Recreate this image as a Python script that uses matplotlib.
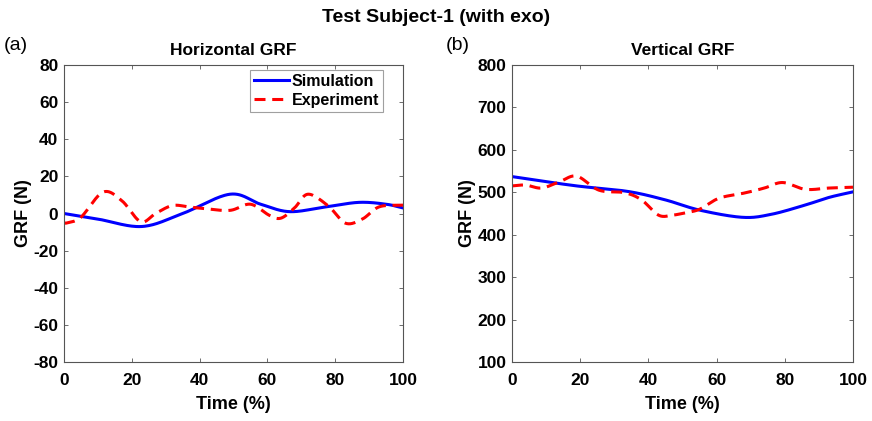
import matplotlib
matplotlib.use("Agg")
import matplotlib.pyplot as plt
import numpy as np

plt.rcParams['font.family'] = ['Liberation Sans', 'DejaVu Sans']
plt.rcParams['axes.unicode_minus'] = False

# Horizontal GRF
h_sim_t = [0, 10, 23, 35, 49, 58, 66.5, 77, 87, 95, 100]
h_sim_v = [0, -3, -7, 0, 10.4, 5, 1, 3.5, 6, 5, 3]
h_exp_t = [0, 1, 5, 11.5, 17, 22.6, 27, 32, 37, 41.7, 49, 55, 60.6, 64, 68, 72, 78, 83, 88, 93, 100]
h_exp_v = [-5, -5, -2, 11.5, 7, -4.4, 0, 4.3, 3.5, 2.6, 1.7, 5, -1, -2.5, 3, 10.4, 4, -5.2, -3, 3.6, 4.5]

# Vertical GRF
v_sim_t = [0, 10, 20, 34, 45, 55, 67.6, 76, 86, 93, 100]
v_sim_v = [537, 525, 514, 502, 482, 458, 441, 448, 470, 488, 501]
v_exp_t = [0, 4, 8.7, 14, 19, 25.5, 33, 38, 43, 47, 51, 55, 60.7, 68, 74, 79.4, 86, 93, 100]
v_exp_v = [515, 517, 510, 525, 538, 505, 499, 482, 446, 446, 452, 460, 486, 498, 510, 523, 507, 510, 512]

x_ticks = [0, 20, 40, 60, 80, 100]
h_ticks = [-80, -60, -40, -20, 0, 20, 40, 60, 80]
v_ticks = [100, 200, 300, 400, 500, 600, 700, 800]


def smooth(t, v):
    t = np.asarray(t, float)
    v = np.asarray(v, float)
    ts, vs = [], []
    P = np.column_stack([t, v])
    P = np.vstack([2 * P[0] - P[1], P, 2 * P[-1] - P[-2]])
    for i in range(1, len(P) - 2):
        p0, p1, p2, p3 = P[i - 1], P[i], P[i + 1], P[i + 2]
        s = np.linspace(0, 1, 30, endpoint=False)[:, None]
        c = 0.5 * ((2 * p1) + (-p0 + p2) * s + (2 * p0 - 5 * p1 + 4 * p2 - p3) * s ** 2
                   + (-p0 + 3 * p1 - 3 * p2 + p3) * s ** 3)
        ts.append(c[:, 0]); vs.append(c[:, 1])
    ts.append([t[-1]]); vs.append([v[-1]])
    return np.concatenate(ts), np.concatenate(vs)


fig = plt.figure(figsize=(8.72, 4.21), dpi=100)
ax1 = fig.add_axes([64 / 872, 1 - 362 / 421, 339 / 872, 297 / 421])
ax2 = fig.add_axes([512 / 872, 1 - 362 / 421, 341 / 872, 297 / 421])

spine_col = '#555555'
TICK_FS = 12.5
LAB_FS = 13


def style(ax):
    ax.set_xlim(0, 100)
    ax.set_xticks(x_ticks)
    for s in ax.spines.values():
        s.set_color(spine_col)
        s.set_linewidth(0.8)
    ax.tick_params(direction='in', top=True, right=True, length=3, width=0.6,
                   color=spine_col, labelsize=TICK_FS, pad=4)
    ax.tick_params(axis='x', pad=8)
    for lbl in ax.get_xticklabels() + ax.get_yticklabels():
        lbl.set_fontweight('bold')
    ax.set_xlabel('Time (%)', fontsize=LAB_FS, fontweight='bold', labelpad=6)
    ax.set_ylabel('GRF (N)', fontsize=LAB_FS, fontweight='bold', labelpad=1)


st, sv = smooth(h_sim_t, h_sim_v)
et, ev = smooth(h_exp_t, h_exp_v)
ax1.plot(st, sv, color='#0000FF', lw=2.2, label='Simulation')
ax1.plot(et, ev, color='#FF0000', lw=2.2, ls=(0, (3.6, 2.2)), label='Experiment')
ax1.set_ylim(-80, 80)
ax1.set_yticks(h_ticks)
style(ax1)
ax1.set_title('Horizontal GRF', fontsize=12.5, fontweight='bold', pad=7)
leg = ax1.legend(loc='upper right', bbox_to_anchor=(0.95, 0.995),
                 prop={'weight': 'bold', 'size': 11.5}, frameon=True, fancybox=False,
                 edgecolor='#888888', handlelength=2.2, handletextpad=0.15,
                 borderpad=0.25, labelspacing=0.25, borderaxespad=0.2)
leg.get_frame().set_linewidth(0.8)

st, sv = smooth(v_sim_t, v_sim_v)
et, ev = smooth(v_exp_t, v_exp_v)
ax2.plot(st, sv, color='#0000FF', lw=2.2)
ax2.plot(et, ev, color='#FF0000', lw=2.2, ls=(0, (3.6, 2.2)))
ax2.set_ylim(100, 800)
ax2.set_yticks(v_ticks)
style(ax2)
ax2.set_title('Vertical GRF', fontsize=12.5, fontweight='bold', pad=7)

fig.text(436 / 872, 1 - 17 / 421, 'Test Subject-1 (with exo)', ha='center', va='center',
         fontsize=14, fontweight='bold')
fig.text(4 / 872, 1 - 46 / 421, '(a)', ha='left', va='center', fontsize=14)
fig.text(446 / 872, 1 - 46 / 421, '(b)', ha='left', va='center', fontsize=14)

fig.savefig('out.png', dpi=100)
